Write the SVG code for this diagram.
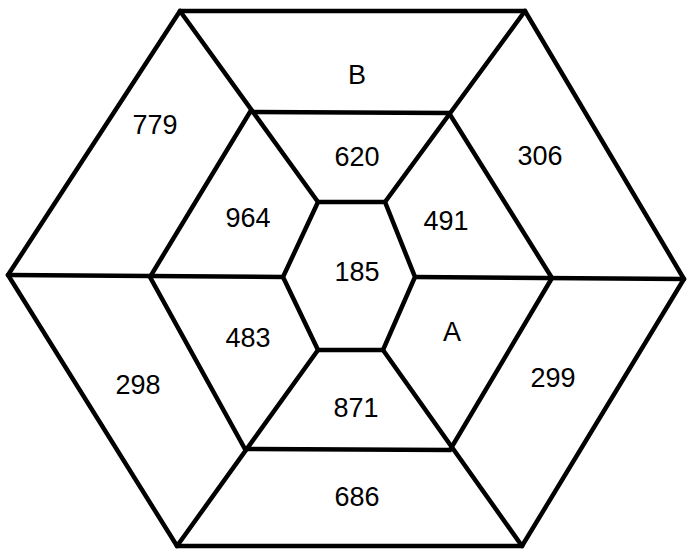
<svg xmlns="http://www.w3.org/2000/svg" width="688" height="550" viewBox="0 0 688 550">
<style>
.ln{fill:none;stroke:#000;stroke-width:4.5;stroke-linejoin:miter;stroke-linecap:round}
text{font-family:"Liberation Sans",Arial,sans-serif;font-size:27px;fill:#000;text-anchor:middle;dominant-baseline:central}
</style>
<rect width="688" height="550" fill="#fff"/>
<g id="outer"><polygon class="ln" points="180,11 525,11 684,279 522,546 177,546 8,275"/></g>
<g id="middle"><polygon class="ln" points="250,112 449,113 552,278 450,450 245,449 150,277"/></g>
<g id="inner"><polygon class="ln" points="318,202 385,202 415,277 383,350 318,350 283,277"/></g>
<g id="connectors">
<line class="ln" x1="180" y1="11" x2="318" y2="202"/>
<line class="ln" x1="525" y1="11" x2="385" y2="202"/>
<line class="ln" x1="8" y1="275" x2="283" y2="277"/>
<line class="ln" x1="684" y1="279" x2="415" y2="277"/>
<line class="ln" x1="177" y1="546" x2="318" y2="350"/>
<line class="ln" x1="522" y1="546" x2="383" y2="350"/>
</g>
<g id="labels">
<text x="357" y="75">B</text>
<text x="155" y="125">779</text>
<text x="540" y="156">306</text>
<text x="357" y="157">620</text>
<text x="248" y="218">964</text>
<text x="446" y="221">491</text>
<text x="357" y="272">185</text>
<text x="248" y="338">483</text>
<text x="452" y="332">A</text>
<text x="138" y="385">298</text>
<text x="553" y="378">299</text>
<text x="356" y="408">871</text>
<text x="357" y="497">686</text>
</g>
</svg>
